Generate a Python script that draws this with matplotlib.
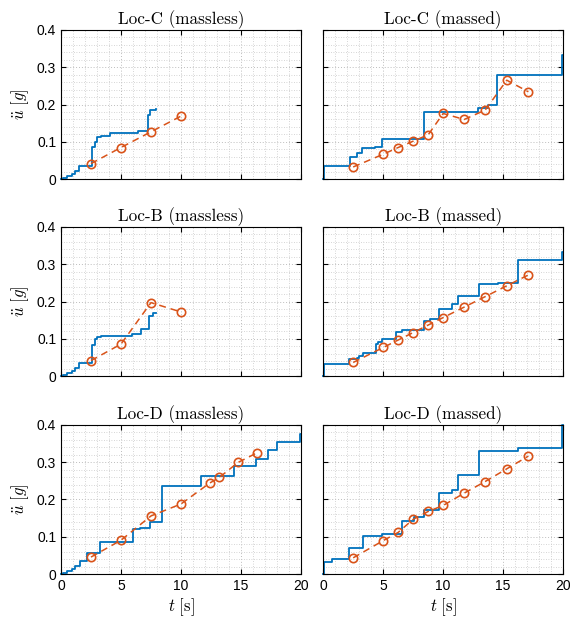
import matplotlib
matplotlib.use("Agg")
import matplotlib.pyplot as plt
from matplotlib.ticker import MultipleLocator

plt.rcParams['mathtext.fontset'] = 'cm'
plt.rcParams['font.family'] = 'Liberation Sans'

blue = '#0072BD'
orange = '#D95319'

titles = ['Loc-C (massless)', 'Loc-C (massed)',
          'Loc-B (massless)', 'Loc-B (massed)',
          'Loc-D (massless)', 'Loc-D (massed)']
xticks = [0, 5, 10, 15, 20]
xtick_labels = ['0', '5', '10', '15', '20']
yticks = [0, 0.1, 0.2, 0.3, 0.4]
ytick_labels = ['0', '0.1', '0.2', '0.3', '0.4']

# blue step records
c_ml_t = [0, 0.2, 0.5, 0.9, 1.2, 1.5, 2.6, 2.8, 3.0, 3.3, 4.1, 6.45, 7.25, 7.45, 7.9]
c_ml_y = [0, 0.004, 0.009, 0.015, 0.022, 0.036, 0.087, 0.100, 0.112, 0.115, 0.123, 0.128, 0.173, 0.184, 0.188]
c_m_t = [0, 0.05, 2.2, 2.85, 3.2, 4.3, 4.92, 8.4, 12.92, 13.75, 14.03, 14.45, 19.9, 20]
c_m_y = [0, 0.036, 0.060, 0.069, 0.084, 0.086, 0.109, 0.179, 0.190, 0.198, 0.200, 0.280, 0.333, 0.333]
b_ml_t = [0, 0.2, 0.5, 0.9, 1.2, 1.5, 2.6, 2.8, 3.0, 3.3, 5.94, 6.67, 7.3, 7.7, 7.9]
b_ml_y = [0, 0.004, 0.009, 0.015, 0.022, 0.036, 0.085, 0.100, 0.105, 0.107, 0.113, 0.127, 0.161, 0.170, 0.170]
b_m_t = [0, 0.05, 2.17, 2.8, 3.0, 3.35, 4.36, 4.6, 4.92, 6.03, 6.53, 8.4, 8.9, 9.64, 10.7, 11.2, 13.0, 14.53,
         16.25, 19.9, 20]
b_m_y = [0, 0.034, 0.045, 0.050, 0.055, 0.062, 0.087, 0.092, 0.100, 0.118, 0.124, 0.149, 0.153, 0.180, 0.193,
         0.216, 0.247, 0.250, 0.312, 0.333, 0.333]
d_ml_t = [0, 0.2, 0.5, 0.9, 1.2, 1.58, 2.14, 3.25, 5.97, 6.58, 7.42, 8.44, 11.64, 14.44, 16.22, 17.28, 18.0,
          19.9, 20]
d_ml_y = [0, 0.004, 0.009, 0.015, 0.022, 0.036, 0.056, 0.087, 0.120, 0.125, 0.140, 0.236, 0.263, 0.290, 0.309,
          0.333, 0.354, 0.374, 0.374]
d_m_t = [0, 0.05, 0.7, 2.17, 3.33, 4.86, 6.58, 7.6, 8.4, 9.66, 10.7, 11.2, 13.0, 16.25, 19.9, 20]
d_m_y = [0, 0.034, 0.042, 0.071, 0.102, 0.109, 0.143, 0.153, 0.171, 0.218, 0.225, 0.265, 0.331, 0.338, 0.400, 0.400]

# orange markers
c_ml_pt = [2.5, 5.0, 7.5, 10.0]
c_ml_py = [0.042, 0.085, 0.127, 0.169]
c_m_pt = [2.5, 5.0, 6.25, 7.5, 8.75, 10.0, 11.75, 13.5, 15.3, 17.1]
c_m_py = [0.033, 0.067, 0.085, 0.102, 0.119, 0.176, 0.160, 0.185, 0.265, 0.234]
b_ml_pt = [2.5, 5.0, 7.5, 10.0]
b_ml_py = [0.042, 0.086, 0.197, 0.172]
b_m_pt = [2.5, 5.0, 6.25, 7.5, 8.75, 10.0, 11.75, 13.5, 15.3, 17.1]
b_m_py = [0.037, 0.077, 0.097, 0.117, 0.137, 0.157, 0.185, 0.213, 0.242, 0.271]
d_ml_pt = [2.5, 5.0, 7.5, 10.0, 12.4, 13.2, 14.75, 16.35]
d_ml_py = [0.046, 0.091, 0.156, 0.188, 0.244, 0.259, 0.299, 0.325]
d_m_pt = [2.5, 5.0, 6.25, 7.5, 8.75, 10.0, 11.75, 13.5, 15.3, 17.1]
d_m_py = [0.044, 0.090, 0.112, 0.147, 0.168, 0.184, 0.217, 0.248, 0.282, 0.316]

steps = [(c_ml_t, c_ml_y), (c_m_t, c_m_y), (b_ml_t, b_ml_y), (b_m_t, b_m_y), (d_ml_t, d_ml_y), (d_m_t, d_m_y)]
pts = [(c_ml_pt, c_ml_py), (c_m_pt, c_m_py), (b_ml_pt, b_ml_py), (b_m_pt, b_m_py), (d_ml_pt, d_ml_py),
       (d_m_pt, d_m_py)]

fig = plt.figure(figsize=(5.7, 6.23), dpi=100)
lefts = [0.107, 0.567]
bottoms = [0.7122, 0.396, 0.0782]
w = 0.421
h = 0.2401

for i in range(6):
    r, c = divmod(i, 2)
    ax = fig.add_axes([lefts[c], bottoms[r], w, h])
    ax.plot(steps[i][0], steps[i][1], drawstyle='steps-post', color=blue, lw=1.3, clip_on=False)
    ax.plot(pts[i][0], pts[i][1], '--o', color=orange, lw=1.1, ms=6, mfc='none', mew=1.2, dashes=(4.5, 3.2))
    ax.set_xticks(xticks)
    ax.set_yticks(yticks)
    ax.xaxis.set_minor_locator(MultipleLocator(1))
    ax.yaxis.set_minor_locator(MultipleLocator(0.02))
    ax.set_xlim(0, 20)
    ax.set_ylim(0, 0.4)
    # dotted grid (major and minor look alike)
    ax.grid(True, which='major', color='#bdbdbd', lw=0.7, dashes=(1, 2))
    ax.grid(True, which='minor', color='#c8c8c8', lw=0.6, dashes=(1, 2))
    ax.set_axisbelow(True)
    ax.tick_params(which='both', direction='in', top=True, right=True, labelsize=10)
    ax.tick_params(which='minor', length=0)
    ax.tick_params(which='major', length=3.5)
    for s in ax.spines.values():
        s.set_linewidth(0.8)
    ax.set_title(titles[i], family='cmr10', fontsize=12.3, pad=4)
    if c == 0:
        ax.set_yticklabels(ytick_labels)
        ax.set_ylabel(r'$\ddot{u}\ [g]$', fontsize=12, labelpad=4)
    else:
        ax.set_yticklabels([])
    if r == 2:
        ax.set_xticklabels(xtick_labels)
        ax.set_xlabel(r'$t\ [\mathrm{s}]$', fontsize=12, labelpad=2)
    else:
        ax.set_xticklabels([])

fig.savefig('out.png', dpi=100)
